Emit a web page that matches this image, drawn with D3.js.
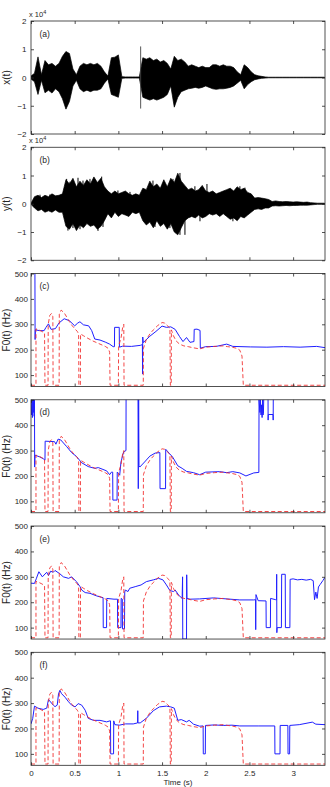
<!DOCTYPE html>
<html>
<head>
<meta charset="utf-8">
<script src="https://cdn.jsdelivr.net/npm/d3@7"></script>
<style>
body { margin: 0; background: #fff; }
svg text { font-family: "Liberation Sans", Arial, sans-serif; fill: #262626; }
</style>
</head>
<body>
<div id="chart"></div>
<script>
// ---- data ----
const timeTicks = [0, 0.5, 1, 1.5, 2, 2.5, 3];
const ampTicks = [-2e4, -1e4, 0, 1e4, 2e4];
const f0Ticks = [100, 200, 300, 400, 500];
const panelTags = ["(a)", "(b)", "(c)", "(d)", "(e)", "(f)"];

// waveform envelopes (units of 1e4), sampled every 0.04 s
const envTime = [0.00,0.04,0.08,0.12,0.16,0.20,0.24,0.28,0.32,0.36,0.40,0.44,0.48,0.52,0.56,0.60,0.64,0.68,0.72,0.76,
  0.80,0.84,0.88,0.92,0.96,1.00,1.04,1.08,1.12,1.16,1.20,1.24,1.28,1.32,1.36,1.40,1.44,1.48,1.52,1.56,
  1.60,1.64,1.68,1.72,1.76,1.80,1.84,1.88,1.92,1.96,2.00,2.04,2.08,2.12,2.16,2.20,2.24,2.28,2.32,2.36,
  2.40,2.44,2.48,2.52,2.56,2.60,2.64,2.68,2.72,2.76,2.80,2.84,2.88,2.92,2.96,3.00,3.04,3.08,3.12,3.16,
  3.20,3.24,3.28,3.32,3.36];
const xHi = [0.05,0.15,0.73,0.10,0.60,0.45,0.50,0.40,0.50,0.75,0.92,0.85,0.30,0.10,0.40,0.50,0.45,0.50,0.45,0.50,
  0.40,0.20,0.05,0.70,0.72,0.80,0.03,0.02,0.02,0.02,0.02,0.02,0.70,0.65,0.70,0.60,0.65,0.55,0.60,0.50,
  0.30,0.75,0.60,0.65,0.55,0.40,0.45,0.40,0.35,0.40,0.35,0.35,0.45,0.45,0.40,0.45,0.40,0.40,0.35,0.20,
  0.10,0.45,0.35,0.20,0.10,0.06,0.04,0.02,0.01,0.01,0.01,0.01,0.01,0.01,0.01,0.01,0.01,0.01,0.01,0.01,
  0.01,0.01,0.01,0.01,0.01];
const xLo = [-0.05,-0.15,-0.60,-0.10,-0.54,-0.45,-0.55,-0.40,-0.50,-0.75,-1.12,-0.85,-0.30,-0.10,-0.40,-0.50,-0.45,-0.50,-0.45,-0.45,
  -0.40,-0.20,-0.05,-0.60,-0.65,-0.70,-0.03,-0.02,-0.02,-0.02,-0.02,-0.02,-0.70,-0.75,-0.80,-0.75,-0.80,-0.75,-0.70,-0.60,
  -0.30,-1.05,-0.70,-0.50,-0.45,-0.40,-0.38,-0.35,-0.38,-0.35,-0.30,-0.35,-0.40,-0.42,-0.40,-0.40,-0.38,-0.35,-0.30,-0.20,
  -0.10,-0.40,-0.25,-0.15,-0.08,-0.05,-0.03,-0.02,-0.01,-0.01,-0.01,-0.01,-0.01,-0.01,-0.01,-0.01,-0.01,-0.01,-0.01,-0.01,
  -0.01,-0.01,-0.01,-0.01,-0.01];
const xClicks = [[1.255, 1.1, -1.1]];
const yHi = [0.02,0.25,0.30,0.22,0.30,0.25,0.35,0.28,0.30,0.35,0.85,0.70,0.90,0.60,0.80,0.65,0.85,0.70,0.95,0.75,
  0.90,0.60,0.45,0.35,0.45,0.35,0.40,0.45,0.35,0.30,0.35,0.30,0.55,0.50,0.80,0.60,0.70,0.55,0.85,0.60,
  0.90,0.75,1.08,0.80,0.65,0.50,0.55,0.45,0.50,0.65,0.45,0.40,0.45,0.35,0.40,0.45,0.50,0.55,0.45,0.60,
  0.50,0.55,0.40,0.35,0.20,0.22,0.20,0.18,0.15,0.08,0.10,0.08,0.07,0.08,0.07,0.06,0.07,0.06,0.05,0.06,
  0.04,0.03,0.02,0.02,0.02];
const yLo = [-0.02,-0.15,-0.25,-0.20,-0.30,-0.25,-0.30,-0.22,-0.30,-0.30,-0.80,-0.90,-0.70,-0.95,-0.75,-0.85,-0.70,-0.80,-0.75,-0.90,
  -0.80,-0.60,-0.35,-0.50,-0.30,-0.45,-0.35,-0.40,-0.45,-0.30,-0.35,-0.30,-0.60,-0.75,-0.65,-0.85,-0.60,-0.80,-0.70,-0.90,
  -0.70,-1.00,-1.10,-0.85,-0.60,-0.50,-0.45,-0.50,-0.40,-0.50,-0.45,-0.35,-0.40,-0.35,-0.45,-0.35,-0.45,-0.55,-0.50,-0.60,
  -0.45,-0.50,-0.40,-0.30,-0.20,-0.18,-0.20,-0.15,-0.15,-0.08,-0.07,-0.08,-0.07,-0.06,-0.07,-0.06,-0.06,-0.05,-0.05,-0.05,
  -0.04,-0.03,-0.02,-0.02,-0.02];
// individual spikes of y(t) that stick out of the envelope: [time s, peak (1e4)]
const yPeaks = [[0.103,0.32],[0.217,0.33],[0.408,0.88],[0.446,0.78],[0.538,0.92],[0.595,0.82],[0.675,0.88],[0.732,0.72],
  [0.809,0.96],[0.995,0.47],[1.133,0.42],[1.396,0.82],[1.51,0.72],[1.625,0.88],[1.705,1.09],[1.876,0.62],[2.014,0.7],
  [2.391,0.62],[2.449,0.57],
  [0.423,-0.95],[0.48,-0.86],[0.561,-0.9],[0.767,-0.96],[0.824,-0.82],[1.419,-0.82],[1.59,-0.86],[1.705,-1.1],
  [1.762,-1.1],[1.934,-0.62],[2.311,-0.62]];

// reference F0 (red dashed), [time s, Hz]; unvoiced frames sit at 60 Hz
const refF0 = [[0,60],[0.057,60],[0.057,282],[0.09,278],[0.125,272],[0.155,266],[0.16,60],
  [0.195,60],[0.197,300],[0.215,335],[0.235,343],[0.25,330],[0.253,60],
  [0.322,60],[0.324,340],[0.345,356],[0.38,345],[0.41,328],[0.44,310],[0.47,295],[0.5,283],[0.53,272],[0.545,262],[0.548,60],
  [0.565,60],[0.567,262],[0.6,255],[0.65,245],[0.71,234],[0.79,222],[0.85,213],[0.885,205],[0.9,190],[0.905,60],
  [1.0,60],[1.003,215],[1.03,245],[1.05,290],[1.062,300],[1.065,60],
  [1.285,60],[1.287,205],[1.32,240],[1.36,262],[1.4,278],[1.45,295],[1.5,307],[1.53,305],[1.56,295],[1.59,285],[1.595,60],
  [1.605,60],[1.607,278],[1.63,255],[1.66,235],[1.7,222],[1.75,215],[1.8,212],[1.85,208],[1.9,205],[1.93,203],[2.0,210],
  [2.1,213],[2.2,215],[2.25,212],[2.3,210],[2.36,205],[2.39,198],[2.415,175],[2.43,60],[3.365,60]];

// estimated F0 tracks (blue), [time s, Hz]
const f0C = [[0.045,500],[0.047,240],[0.05,278],[0.1,275],[0.15,275],[0.17,287],[0.2,302],[0.23,280],[0.28,283],[0.32,305],
  [0.38,322],[0.44,314],[0.5,294],[0.535,305],[0.56,310],[0.6,298],[0.66,294],[0.695,275],[0.73,242],[0.79,238],[0.85,230],
  [0.9,222],[0.94,212],[0.955,212],[0.957,288],[1.01,288],[1.012,210],[1.05,214],[1.15,213],[1.25,217],[1.275,220],[1.277,104],
  [1.279,250],[1.285,228],[1.36,253],[1.43,272],[1.5,293],[1.55,288],[1.6,290],[1.65,280],[1.7,252],[1.74,232],[1.78,248],
  [1.82,229],[1.865,232],[1.868,280],[1.9,281],[1.935,276],[1.938,206],[2.0,212],[2.12,213],[2.24,222],[2.31,213],[2.51,211],
  [2.7,210],[2.89,212],[3.08,210],[3.27,213],[3.365,208]];
const f0D = [[0,500],[0.006,440],[0.011,500],[0.016,430],[0.021,500],[0.026,450],[0.031,500],[0.036,435],[0.04,500],[0.042,235],
  [0.046,282],[0.1,275],[0.14,268],[0.16,262],[0.162,337],[0.27,335],[0.285,325],[0.31,345],[0.34,342],[0.41,315],[0.465,292],
  [0.52,277],[0.58,252],[0.655,237],[0.73,230],[0.77,233],[0.866,220],[0.9,205],[0.92,215],[0.935,215],[0.937,105],[0.985,105],
  [0.987,215],[1.0,210],[1.015,203],[1.03,255],[1.06,295],[1.087,300],[1.089,600],[1.22,600],[1.225,500],[1.228,150],[1.232,500],
  [1.236,240],[1.245,235],[1.3,255],[1.36,278],[1.42,290],[1.475,292],[1.477,150],[1.54,150],[1.542,305],[1.58,290],[1.62,275],
  [1.68,240],[1.73,230],[1.78,218],[1.86,213],[1.93,205],[2.0,215],[2.16,217],[2.24,213],[2.31,217],[2.39,212],[2.46,200],
  [2.55,212],[2.608,214],[2.61,500],[2.62,450],[2.625,500],[2.633,440],[2.64,480],[2.645,430],[2.65,500],[2.655,440],[2.66,445],
  [2.67,600],[2.712,600],[2.714,420],[2.716,442],[2.77,442],[2.772,420],[2.774,600],[3.365,600]];
const f0E = [[0,275],[0.04,274],[0.06,292],[0.09,320],[0.13,300],[0.18,318],[0.2,305],[0.225,322],[0.255,318],[0.275,325],
  [0.33,312],[0.37,300],[0.43,294],[0.465,300],[0.52,281],[0.56,262],[0.58,248],[0.62,238],[0.675,235],[0.75,225],[0.81,219],
  [0.825,218],[0.827,100],[0.865,100],[0.867,215],[0.95,212],[0.99,212],[0.992,100],[1.03,100],[1.032,215],[1.045,212],
  [1.047,95],[1.07,95],[1.073,240],[1.08,248],[1.11,242],[1.13,255],[1.2,262],[1.26,268],[1.32,281],[1.4,288],[1.46,294],
  [1.51,288],[1.55,268],[1.59,246],[1.63,242],[1.65,248],[1.69,228],[1.73,215],[1.735,300],[1.737,55],[1.78,55],[1.782,308],
  [1.785,215],[1.82,212],[1.93,213],[2.09,217],[2.24,213],[2.39,209],[2.55,209],[2.57,210],[2.572,92],[2.575,230],[2.6,206],
  [2.69,205],[2.692,100],[2.74,100],[2.742,215],[2.8,210],[2.81,210],[2.812,310],[2.814,80],[2.817,100],[2.866,100],[2.869,310],
  [2.91,310],[2.912,100],[2.963,100],[2.966,290],[3.0,292],[3.05,288],[3.1,290],[3.15,287],[3.2,290],[3.23,285],[3.245,210],
  [3.26,240],[3.275,215],[3.29,260],[3.31,270],[3.34,285],[3.365,298]];
const f0F = [[0,218],[0.02,240],[0.04,288],[0.08,280],[0.14,275],[0.18,280],[0.2,314],[0.215,308],[0.255,292],[0.275,286],
  [0.3,292],[0.315,336],[0.33,350],[0.35,337],[0.39,323],[0.43,305],[0.465,292],[0.505,285],[0.54,298],[0.58,292],[0.62,272],
  [0.655,240],[0.715,232],[0.79,232],[0.866,226],[0.904,230],[0.91,230],[0.912,100],[0.945,100],[0.947,230],[0.96,215],[1.01,213],
  [1.08,218],[1.17,218],[1.22,222],[1.222,270],[1.224,222],[1.25,222],[1.32,240],[1.4,270],[1.47,285],[1.55,288],[1.6,285],
  [1.64,280],[1.68,232],[1.72,235],[1.78,226],[1.81,232],[1.86,217],[1.93,209],[1.97,210],[1.972,100],[1.995,100],[1.997,212],
  [2.1,214],[2.2,212],[2.3,213],[2.39,210],[2.6,210],[2.79,210],[2.792,100],[2.85,100],[2.852,212],[2.94,212],[2.942,100],
  [2.96,100],[2.962,212],[3.07,215],[3.22,225],[3.26,217],[3.365,215]];

// ---- layout ----
const svgWidth = 330;
const svgHeight = 787;
const margin = { top: 21, right: 5, left: 31 };
const width = svgWidth - margin.left - margin.right;
const panelH = 113;
const panelStep = 126.26;
const ink = "#262626";

const svg = d3.select("#chart").append("svg")
  .attr("width", svgWidth)
  .attr("height", svgHeight);

const x = d3.scaleLinear().domain([0, 3.365]).range([0, width]);

function makePanel(i) {
  const g = svg.append("g")
    .attr("transform", `translate(${margin.left}, ${margin.top + i * panelStep})`);
  g.append("clipPath").attr("id", "clip" + i)
    .append("rect").attr("width", width).attr("height", panelH);
  const plot = g.append("g").attr("clip-path", `url(#clip${i})`);
  return { g, plot };
}

function drawAxes(g, y, yTicks, yFmt, yPad, showTime) {
  g.append("g")
    .call(d3.axisLeft(y).tickValues(yTicks).tickFormat(yFmt).tickSizeInner(-3).tickSizeOuter(0).tickPadding(yPad));
  g.append("g").attr("transform", `translate(${width}, 0)`)
    .call(d3.axisRight(y).tickValues(yTicks).tickFormat(() => "").tickSizeInner(-3).tickSizeOuter(0));
  g.append("g")
    .call(d3.axisTop(x).tickValues(timeTicks).tickFormat(() => "").tickSizeInner(-3).tickSizeOuter(0));
  g.append("g").attr("transform", `translate(0, ${panelH})`)
    .call(d3.axisBottom(x).tickValues(timeTicks).tickFormat(showTime ? d => String(d) : () => "")
      .tickSizeInner(-3).tickSizeOuter(0).tickPadding(5));
  g.selectAll(".domain").remove();
  g.selectAll(".tick line").attr("stroke", ink).attr("stroke-width", 0.8);
  g.selectAll(".tick text").attr("font-size", 8);
  g.append("rect")
    .attr("width", width).attr("height", panelH)
    .attr("fill", "none").attr("stroke", ink).attr("stroke-width", 0.8);
}

function yLabel(g, txt) {
  g.append("text")
    .attr("transform", `translate(${10 - margin.left}, ${panelH / 2}) rotate(-90)`)
    .attr("text-anchor", "middle")
    .attr("font-size", 10)
    .text(txt);
}

function tag(g, i) {
  g.append("text").attr("x", 8.5).attr("y", 15.5).attr("font-size", 8.5).text(panelTags[i]);
}

// ---- waveform panels (a), (b) ----
const ampFmt = d => d3.format("")(d / 1e4);
[[xHi, xLo, "x(t)"], [yHi, yLo, "y(t)"]].forEach(([hi, lo, name], i) => {
  const { g, plot } = makePanel(i);
  const y = d3.scaleLinear().domain([-2e4, 2e4]).range([panelH, 0]);
  const env = envTime.map((t, k) => ({ t, hi: hi[k] * 1e4, lo: lo[k] * 1e4 }));
  plot.append("path")
    .datum(env)
    .attr("d", d3.area().x(d => x(d.t)).y0(d => y(d.lo)).y1(d => y(d.hi)))
    .attr("fill", "#000").attr("stroke", "#000").attr("stroke-width", 0.7);
  if (i === 0) {
    plot.selectAll("line.click").data(xClicks).enter().append("line")
      .attr("x1", d => x(d[0])).attr("x2", d => x(d[0]))
      .attr("y1", d => y(d[1] * 1e4)).attr("y2", d => y(d[2] * 1e4))
      .attr("stroke", "#444").attr("stroke-width", 0.9);
  } else {
    plot.selectAll("line.peak").data(yPeaks).enter().append("line")
      .attr("x1", d => x(d[0])).attr("x2", d => x(d[0]))
      .attr("y1", y(0)).attr("y2", d => y(d[1] * 1e4))
      .attr("stroke", "#000").attr("stroke-width", 1);
  }
  drawAxes(g, y, ampTicks, ampFmt, 4.5, false);
  yLabel(g, name);
  tag(g, i);
  const ex = g.append("text").attr("x", -2).attr("y", -4.5).attr("font-size", 7.5).text("x 10");
  ex.append("tspan").attr("dy", -3).attr("font-size", 5.5).text("4");
});

// ---- F0 panels (c)-(f) ----
[f0C, f0D, f0E, f0F].forEach((track, j) => {
  const i = j + 2;
  const { g, plot } = makePanel(i);
  const y = d3.scaleLinear().domain([55, 500]).range([panelH, 0]);
  const line = d3.line().x(d => x(d[0])).y(d => y(d[1]));
  plot.append("path").datum(track).attr("d", line)
    .attr("fill", "none").attr("stroke", "#1f1fff").attr("stroke-width", 1);
  plot.append("path").datum(refF0).attr("d", line)
    .attr("fill", "none").attr("stroke", "#f23232").attr("stroke-width", 0.9)
    .attr("stroke-dasharray", "4,2.5");
  drawAxes(g, y, f0Ticks, d => String(d), 3, i === 5);
  yLabel(g, "F0(t) (Hz)");
  tag(g, i);
  if (i === 5) {
    g.append("text").attr("x", width / 2).attr("y", svgHeight - 1.8 - (margin.top + i * panelStep))
      .attr("text-anchor", "middle").attr("font-size", 8).text("Time (s)");
  }
});
</script>
</body>
</html>
